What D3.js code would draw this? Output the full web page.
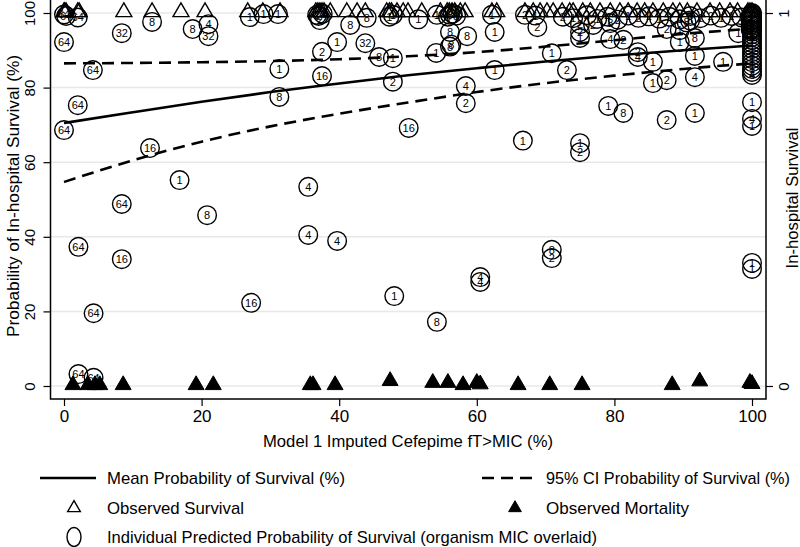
<!DOCTYPE html>
<html>
<head>
<meta charset="utf-8">
<script src="https://cdn.jsdelivr.net/npm/d3@7"></script>
<style>
  html, body { margin: 0; padding: 0; background: #fff; }
  svg { display: block; font-family: "Liberation Sans", Arial, sans-serif; }
</style>
</head>
<body>
<svg id="chart" width="800" height="547"></svg>
<script>
// ---------- data ----------
const xTicks = [0, 20, 40, 60, 80, 100];
const yTicks = [0, 20, 40, 60, 80, 100];
const rightTicks = [0, 1];

const curveX   = [0, 10, 20, 30, 40, 50, 60, 70, 80, 90, 100];
const meanProb = [70.5, 73.4, 76.2, 78.8, 81.1, 83.3, 85.2, 87.0, 88.6, 90.0, 91.3];
const upperCI  = [86.5, 86.6, 86.8, 87.1, 87.6, 88.4, 89.5, 91.0, 92.7, 94.4, 95.8];
const lowerCI  = [54.7, 60.5, 65.5, 69.6, 73.0, 76.0, 78.8, 81.2, 83.2, 85.0, 86.5];

// individual predicted probability of survival (circle), with organism MIC
const circleX = [
  0, 2.0, 0.3, 0, 4.2, 2.0, 0, 8.4, 12.8, 18.7, 21, 21, 12.5, 16.8,
  8.4, 20.8, 2.1, 8.4, 4.3, 27.2, 2.1, 4.3,
  27, 29, 31.1, 37.2, 41.6, 44, 47.8, 36.8, 37.6, 37.0, 47.3,
  31.3, 31.3, 37.5, 39.7, 37.5, 43.8, 45.8, 47.8, 47.8, 50.1,
  51.5, 54.2, 56.1, 56.5, 56.1, 58.6, 56.1, 56.3, 54.1, 62.6, 62.6, 62.2, 67, 68.8, 68.5, 70.9, 73.1, 55.8, 57.0,
  54.2, 48, 35.5, 35.5, 39.7, 60.5, 60.5, 58.4, 58.4, 66.7, 70.9, 70.9, 100, 100,
  75, 75, 75, 76.9, 79.4, 79.4, 81.3, 83.4, 83.4, 85.6, 85.6, 87.6, 87.6, 89.5, 89.5, 91.7, 91.7, 91.7, 95.8, 98,
  79.1, 81.3, 87.6, 91.7, 100, 100, 100, 75, 75,
  72.5, 74, 76, 77.5, 79, 80.5, 82, 83.5, 85, 86.5, 88, 89.5, 91, 92.5, 94, 95.5, 97, 98.5, 90.5, 91,
  100, 100, 100, 100, 100, 100, 100, 100, 100, 100, 100, 100, 100, 100, 100, 100, 100, 100, 100, 100, 100, 100, 100, 100, 100, 100, 100,
  99.8, 99.8, 99.8, 99.8
];
const circleY = [
  99.6, 98.8, 99.2, 92.2, 84.7, 75.3, 68.6, 94.6, 97.6, 95.7, 97, 93.8, 63.8, 55.2,
  48.8, 45.8, 37.3, 34.0, 19.5, 22.3, 3.2, 2.2,
  98.9, 99.7, 99.7, 98.1, 96.8, 98.7, 99.5, 99.5, 99.8, 99.2, 99.0,
  85, 77.5, 89.6, 92.2, 83.1, 91.9, 88.2, 87.9, 81.6, 69.2,
  98.3, 99.5, 99.5, 99.8, 94.9, 93.8, 91, 91.5, 89.3, 94.9, 84.7, 99.5, 99.5, 96.2, 99.3, 89.2, 84.7, 99.0, 99.3,
  17.2, 24.1, 53.4, 40.5, 38.9, 29.2, 27.9, 80.4, 75.8, 65.8, 36.5, 34.3, 33.0, 31.4,
  97, 94.9, 93.3, 96.8, 97.3, 93, 92.8, 89.5, 88.2, 86.9, 81.2, 82, 95.7, 92.2, 95.4, 93.3, 88.5, 82.8, 86.9, 94.6,
  75.1, 73.2, 71.3, 73.2, 76.1, 71.6, 69.7, 65.1, 62.7,
  99, 98.6, 99.4, 98.4, 99, 98.2, 99.3, 98.7, 99.1, 98.5, 99, 98.3, 99.2, 98.6, 99.3, 98.7, 99.2, 98.8, 97.5, 98,
  100, 99.7, 99.4, 99, 98.6, 98.2, 97.8, 97.4, 97, 96.5, 96, 95.5, 95, 94.3, 93.6, 92.8, 92, 91.2, 90.4, 89.5, 88.6, 87.7, 86.8, 85.9, 85, 84.2, 83.4,
  99.2, 98.0, 96.8, 95.6
];
const circleMIC = [
  "64", "64", "64", "64", "64", "64", "64", "32", "8", "8", "4", "32", "16", "1",
  "64", "8", "64", "16", "64", "16", "64", "64",
  "1", "1", "1", "2", "8", "8", "1", "2", "4", "2", "1",
  "1", "8", "2", "1", "16", "32", "8", "1", "2", "16",
  "1", "1", "8", "8", "8", "8", "8", "8", "1", "1", "1", "1", "2", "2", "1", "1", "2", "8", "8",
  "8", "1", "4", "4", "4", "4", "4", "4", "2", "1", "8", "2", "1", "1",
  "2", "2", "1", "2", "8", "4", "2", "2", "4", "1", "1", "2", "2", "1", "1", "8", "1", "4", "1", "1",
  "1", "8", "2", "1", "1", "4", "1", "1", "2",
  "2", "1", "2", "1", "4", "2", "1", "2", "1", "1", "2", "1", "8", "1", "2", "1", "1", "1", "8", "8",
  "1", "1", "1", "1", "1", "1", "1", "1", "1", "1", "1", "1", "1", "1", "1", "1", "1", "1", "1", "1", "1", "1", "1", "1", "1", "2", "4",
  "1", "1", "1", "1"
];

// observed survival (open triangles at 100%)
const survX = [0, 0.1, 0.3, 2.0, 2.2, 8.7, 12.8, 17.0, 20.5, 26.7, 28.9, 31.4, 36.6, 36.9, 37.2, 37.5, 37.8, 38.7,
  41.1, 42.6, 43.8, 46.9, 47.3, 47.6, 48.4, 49.3, 50.0, 52.0, 54.7, 55.7, 56.0, 56.4, 56.8, 57.6, 58.3, 62.2, 62.9, 67.0,
  68.2, 69.2, 70.2, 71.1, 72.4, 73.5, 74.0, 75.4, 76.5, 77.9, 79.4, 80.8, 82.0, 83.3, 84.4, 85.6,
  87.1, 88.5, 89.5, 90.6, 92.0, 93.9, 95.3, 96.8, 97.9, 99.4, 99.7, 100];

// observed mortality (filled triangles at 0%)
const mortX = [1.3, 3.5, 4.5, 5.2, 8.6, 19.2, 21.7, 35.8, 36.2, 39.4, 47.4, 53.6, 55.8, 58.0, 60.0, 60.5,
  66.0, 70.6, 75.3, 88.4, 92.4, 99.7, 100];
const mortY = [0, 0, 0, 0, 0, 0, 0, 0, 0, 0, 1.1, 0.6, 0.6, 0, 0.6, 0.2, 0, 0, 0, 0, 1.0, 0.6, 0.3];

// ---------- drawing ----------
const FONT = "Liberation Sans, Arial, sans-serif";
const svg = d3.select("#chart");
const x = d3.scaleLinear().domain([0, 100]).range([64, 752]);
const y = d3.scaleLinear().domain([0, 100]).range([386, 13]);
const yR = d3.scaleLinear().domain([0, 1]).range([386, 13]);
const frameL = 50.5, frameR = 766, frameB = 399;

// gridlines
svg.append("g").selectAll("line").data(yTicks).join("line")
  .attr("x1", frameL).attr("x2", frameR)
  .attr("y1", d => y(d)).attr("y2", d => y(d))
  .attr("stroke", "#e8e8e8").attr("stroke-width", 1.5);

// axes
const gL = svg.append("g").attr("transform", `translate(${frameL},0)`)
  .call(d3.axisLeft(y).tickValues(yTicks).tickSize(7).tickPadding(4).tickSizeOuter(0));
gL.select(".domain").remove();
gL.selectAll(".tick text").attr("font-size", 15).attr("font-family", FONT)
  .attr("text-anchor", "middle").attr("transform", "rotate(-90)")
  .attr("x", 0).attr("y", -21).attr("dy", "0.35em");
gL.selectAll(".tick line").attr("stroke", "#000").attr("stroke-width", 1.2);

const gB = svg.append("g").attr("transform", `translate(0,${frameB})`)
  .call(d3.axisBottom(x).tickValues(xTicks).tickSize(7).tickPadding(4).tickSizeOuter(0));
gB.select(".domain").remove();
gB.selectAll(".tick text").attr("font-size", 17).attr("font-family", FONT);
gB.selectAll(".tick line").attr("stroke", "#000").attr("stroke-width", 1.2);

const gR = svg.append("g").attr("transform", `translate(${frameR},0)`)
  .call(d3.axisRight(yR).tickValues(rightTicks).tickFormat(d3.format("d")).tickSize(7).tickSizeOuter(0));
gR.select(".domain").remove();
gR.selectAll(".tick text").attr("font-size", 15).attr("font-family", FONT)
  .attr("text-anchor", "middle").attr("transform", "rotate(-90)")
  .attr("x", 0).attr("y", 18).attr("dy", "0.35em");
gR.selectAll(".tick line").attr("stroke", "#000").attr("stroke-width", 1.2);

// frame
svg.append("path")
  .attr("d", `M${frameL},0 V${frameB} H${frameR} V0`)
  .attr("fill", "none").attr("stroke", "#000").attr("stroke-width", 1.5);

// axis titles
svg.append("text").attr("transform", `translate(13,196) rotate(-90)`)
  .attr("text-anchor", "middle").attr("dy", "0.35em").attr("font-size", 16)
  .attr("textLength", 282).attr("lengthAdjust", "spacingAndGlyphs")
  .text("Probability of In-hospital Survival (%)");
svg.append("text").attr("transform", `translate(792,198) rotate(-90)`)
  .attr("text-anchor", "middle").attr("dy", "0.35em").attr("font-size", 16)
  .attr("textLength", 141).attr("lengthAdjust", "spacingAndGlyphs")
  .text("In-hospital Survival");
svg.append("text").attr("x", 408).attr("y", 441)
  .attr("text-anchor", "middle").attr("dy", "0.35em").attr("font-size", 16)
  .attr("textLength", 290).attr("lengthAdjust", "spacingAndGlyphs")
  .text("Model 1 Imputed Cefepime fT>MIC (%)");

// triangles
const triUp = d3.symbol().type(d3.symbolTriangle).size(110);
svg.append("g").selectAll("path").data(survX).join("path")
  .attr("d", triUp)
  .attr("transform", d => `translate(${x(d)},${y(100) - 1})`)
  .attr("fill", "none").attr("stroke", "#000").attr("stroke-width", 1.4);
svg.append("g").selectAll("path").data(mortX).join("path")
  .attr("d", triUp)
  .attr("transform", (d, i) => `translate(${x(d)},${y(mortY[i]) - 1})`)
  .attr("fill", "#000").attr("stroke", "#000").attr("stroke-width", 1);

// circles with MIC label
const cdata = circleX.map((cx, i) => ({ x: cx, y: circleY[i], m: circleMIC[i] }));
const cg = svg.append("g").selectAll("g").data(cdata).join("g")
  .attr("transform", d => `translate(${x(d.x)},${y(d.y)})`);
cg.append("circle").attr("r", 9.3).attr("fill", "none").attr("stroke", "#000").attr("stroke-width", 1.4);
cg.append("text").attr("text-anchor", "middle").attr("dy", "0.36em").attr("font-size", 11)
  .text(d => d.m);

// curves
const line = d3.line().curve(d3.curveMonotoneX);
const toPts = arr => curveX.map((cx, i) => [x(cx), y(arr[i])]);
svg.append("path").attr("d", line(toPts(meanProb)))
  .attr("fill", "none").attr("stroke", "#000").attr("stroke-width", 2.6);
[upperCI, lowerCI].forEach(arr => {
  svg.append("path").attr("d", line(toPts(arr)))
    .attr("fill", "none").attr("stroke", "#000").attr("stroke-width", 2.6)
    .attr("stroke-dasharray", "12,7");
});

// legend
const lg = svg.append("g").attr("font-size", 17);
const legText = (tx, ty, txt, len) => lg.append("text").attr("x", tx).attr("y", ty).attr("dy", "0.35em")
  .attr("textLength", len).attr("lengthAdjust", "spacingAndGlyphs").text(txt);
lg.append("line").attr("x1", 40).attr("x2", 96).attr("y1", 478).attr("y2", 478)
  .attr("stroke", "#000").attr("stroke-width", 2.6);
legText(107, 478, "Mean Probability of Survival (%)", 238);
lg.append("line").attr("x1", 482).attr("x2", 538).attr("y1", 478).attr("y2", 478)
  .attr("stroke", "#000").attr("stroke-width", 2.6).attr("stroke-dasharray", "12,7");
legText(546, 478, "95% CI Probability of Survival (%)", 244);
const triLeg = d3.symbol().type(d3.symbolTriangle).size(70);
lg.append("path").attr("d", triLeg).attr("transform", "translate(74,508)")
  .attr("fill", "none").attr("stroke", "#000").attr("stroke-width", 1.4);
legText(107, 508, "Observed Survival", 137);
lg.append("path").attr("d", triLeg).attr("transform", "translate(515,508)")
  .attr("fill", "#000").attr("stroke", "#000");
legText(546, 508, "Observed Mortality", 143);
lg.append("ellipse").attr("cx", 74).attr("cy", 537).attr("rx", 7).attr("ry", 9.5)
  .attr("fill", "none").attr("stroke", "#000").attr("stroke-width", 1.4);
legText(107, 537, "Individual Predicted Probability of Survival (organism MIC overlaid)", 490);
</script>
</body>
</html>
